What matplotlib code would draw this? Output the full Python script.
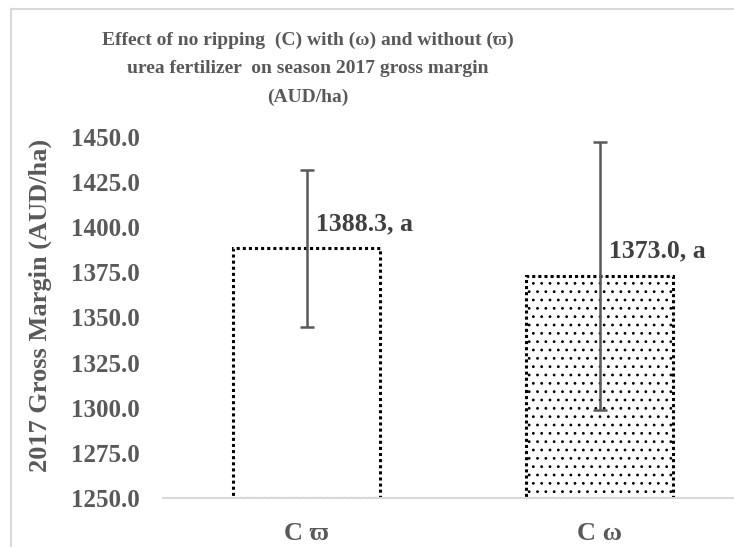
import matplotlib
matplotlib.use("Agg")
import matplotlib.pyplot as plt
from matplotlib.lines import Line2D

plt.rcParams['font.family'] = ['Liberation Serif', 'DejaVu Serif']
plt.rcParams['font.weight'] = 'bold'
plt.rcParams['hatch.linewidth'] = 0.8

# Gross margin data (AUD/ha)
categories = ["C \u03d6", "C \u03c9"]
means = [1388.3, 1373.0]
errors = [43.5, 74.5]
letters = ["a", "a"]
hatches = ["", ".."]
yticks = [1250, 1275, 1300, 1325, 1350, 1375, 1400, 1425, 1450]

W, H = 734, 547
fig = plt.figure(figsize=(W / 100, H / 100), dpi=100)

# outer frame (only left and top edges fall inside the canvas)
fig.add_artist(Line2D([11 / W, 11 / W], [0, 1 - 9 / H], color="#d9d9d9", lw=1.5,
                      transform=fig.transFigure))
fig.add_artist(Line2D([11 / W, 1], [1 - 9 / H, 1 - 9 / H], color="#d9d9d9", lw=1.5,
                      transform=fig.transFigure))

ax = fig.add_axes([163 / W, 1 - 498 / H, 586 / W, 361 / H])
ax.set_xlim(-0.49, 1.51)
ax.set_ylim(1250, 1450)

x = list(range(len(categories)))
bars = ax.bar(x, [m - 1250 for m in means], bottom=1250, width=0.5,
              facecolor="white", edgecolor="black", linewidth=2.2,
              linestyle=(0, (1, 1)), zorder=2)
for b, h in zip(bars, hatches):
    b.set_hatch(h)

ax.errorbar(x, means, yerr=errors, fmt="none", ecolor="#595959",
            elinewidth=1.8, capsize=5, capthick=1.8, zorder=3)

for xi, m, e, let in zip(x, means, errors, letters):
    ax.annotate(f"{m:.1f}, {let}", xy=(xi, m), xytext=(7, 18),
                textcoords="offset points", ha="left", va="center",
                fontsize=18.5, color="#404040", fontweight="bold")

for s in ["top", "right", "left"]:
    ax.spines[s].set_visible(False)
ax.spines["bottom"].set_color("#d9d9d9")
ax.spines["bottom"].set_linewidth(1.5)
ax.spines["bottom"].set_zorder(4)

ax.set_yticks(yticks)
ax.set_yticklabels([f"{v:.1f}" for v in yticks])
ax.set_xticks(x)
ax.set_xticklabels(categories)
ax.tick_params(axis="y", length=0, pad=17, labelsize=18, labelcolor="#595959")
ax.tick_params(axis="x", length=0, pad=17, labelsize=19, labelcolor="#595959")

fig.text(40 / W, 1 - 305 / H, "2017 Gross Margin (AUD/ha)", rotation=90,
         ha="center", va="center", fontsize=19, color="#595959", fontweight="bold")

fig.text(308 / W, 1 - 69 / H,
         "Effect of no ripping  (C) with (\u03c9) and without (\u03d6)\n"
         "urea fertilizer  on season 2017 gross margin\n(AUD/ha)",
         ha="center", va="center", fontsize=14, color="#595959",
         fontweight="bold", linespacing=1.85, multialignment="center")

fig.savefig("out.png", dpi=100)
